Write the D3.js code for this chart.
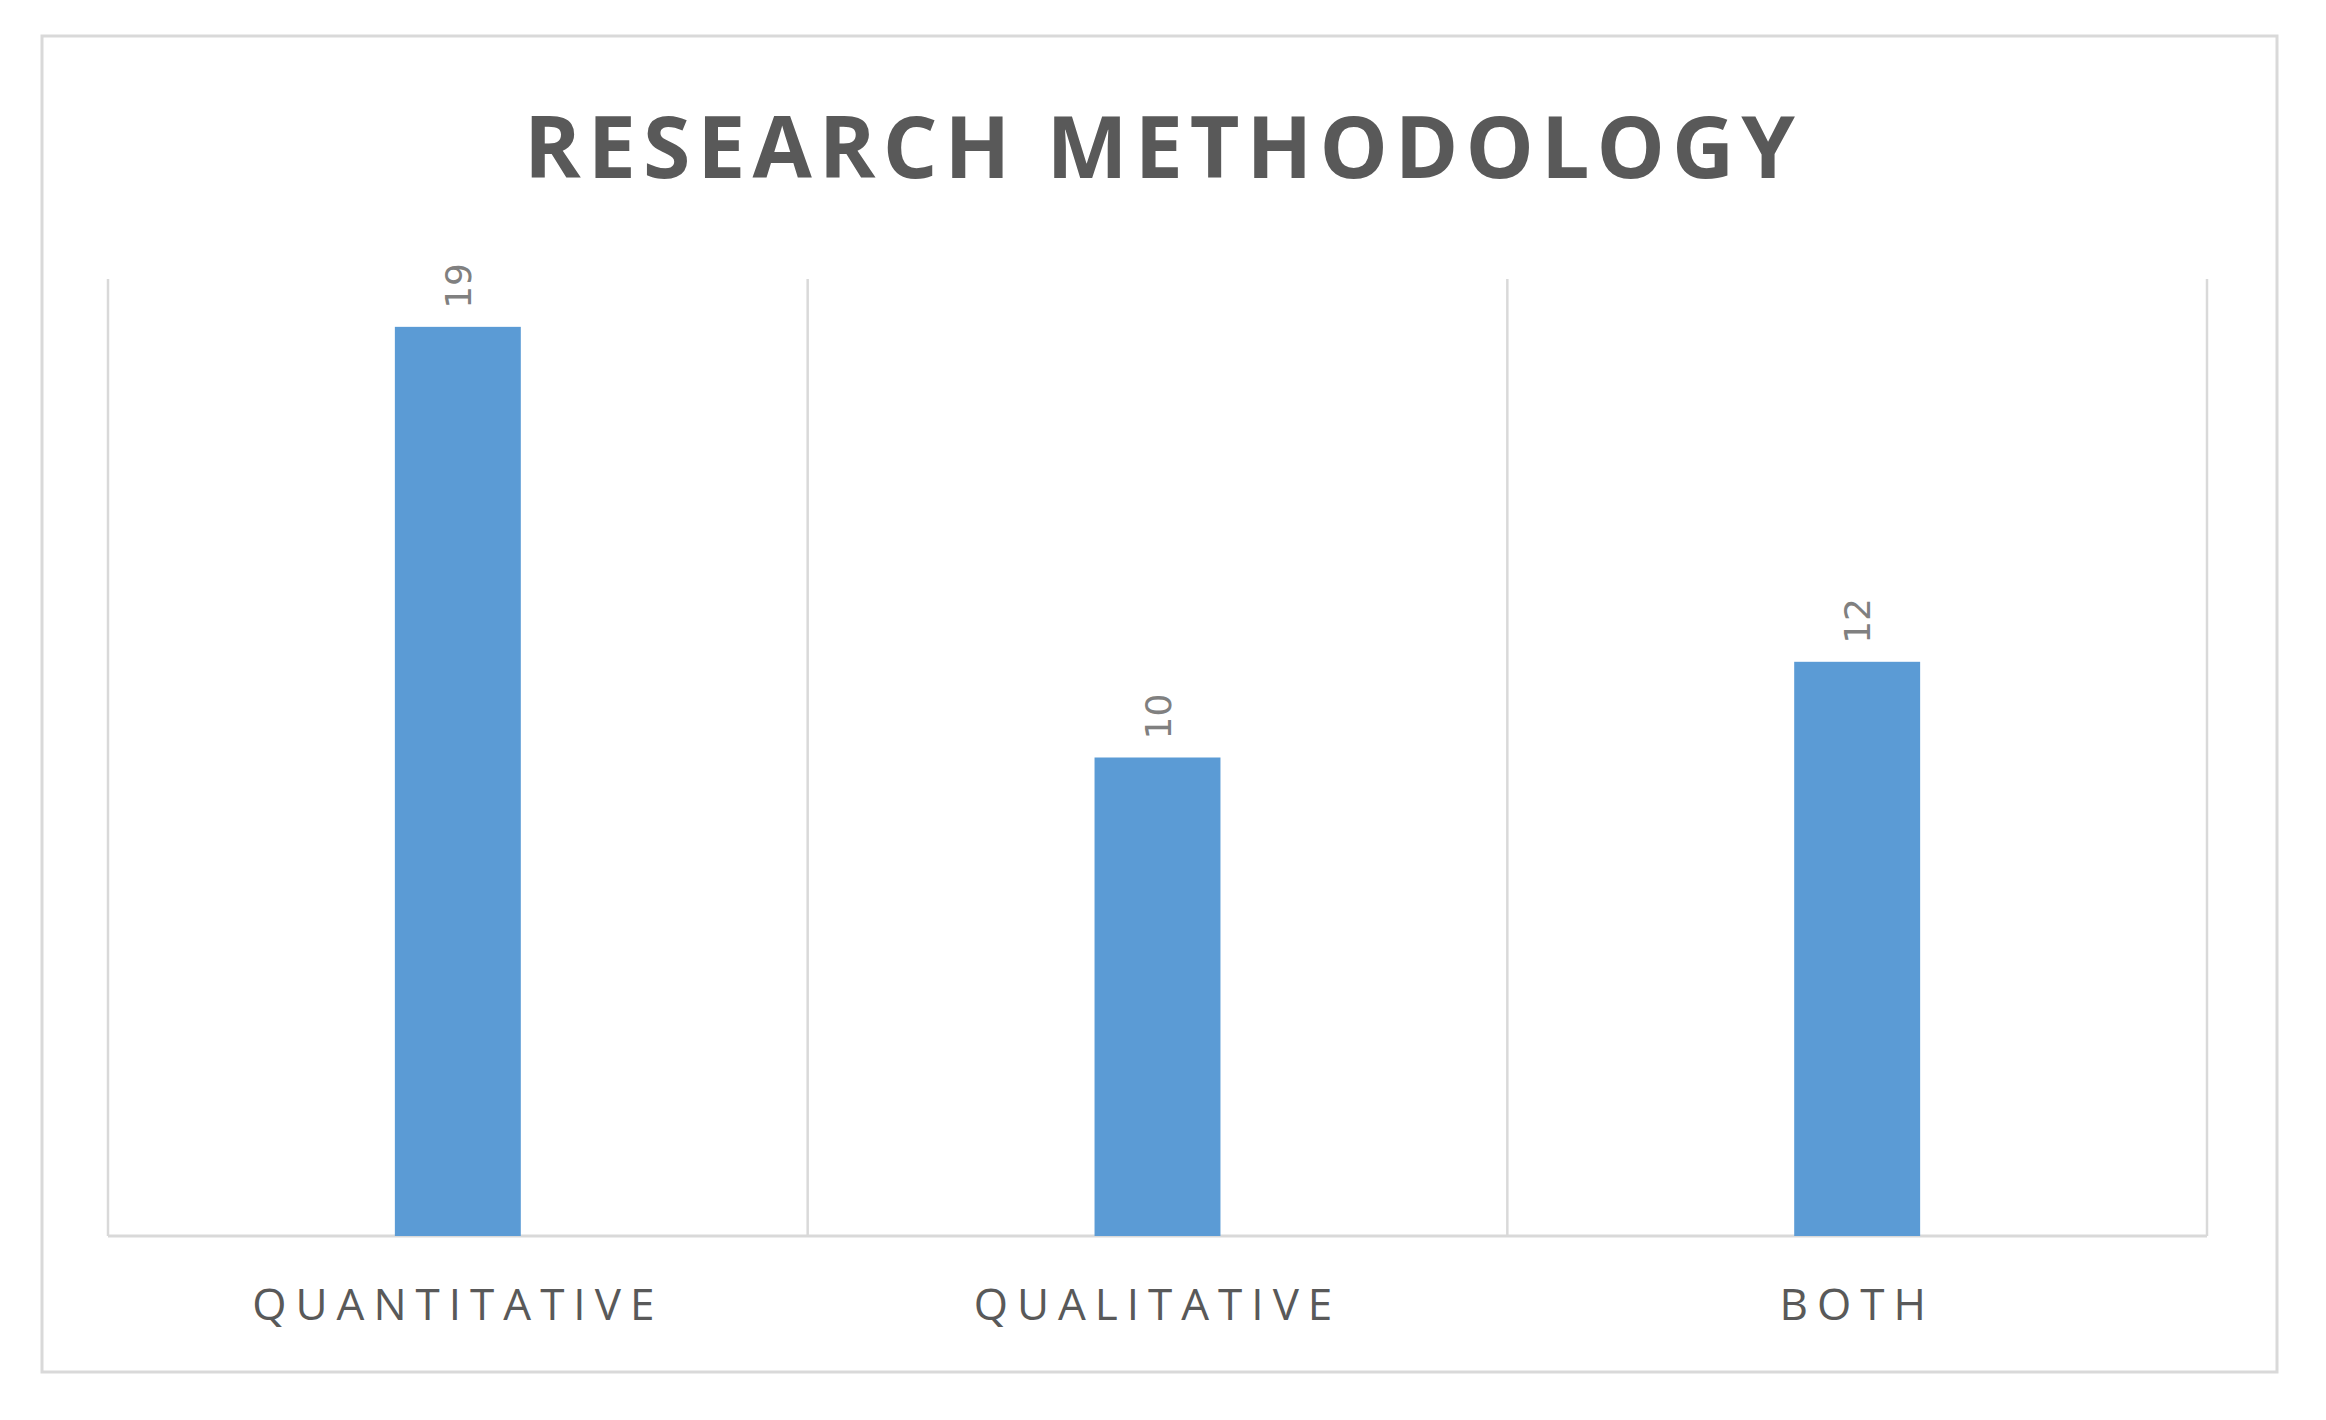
<!DOCTYPE html>
<html><head><meta charset="utf-8">
<script src="https://cdn.jsdelivr.net/npm/d3@7"></script>
<style>body{margin:0;background:#fff}</style>
</head><body><svg id="chart" width="2326" height="1420"></svg>
<script>
var categories = ["QUANTITATIVE", "QUALITATIVE", "BOTH"];
var values = [19, 10, 12];
var yDomain = [0, 20];

var margin = {top: 279, right: 119, bottom: 184, left: 108},
    width = 2326 - margin.left - margin.right,
    height = 1420 - margin.top - margin.bottom;

var svg = d3.select("#chart");
svg.append("rect").attr("x", 42).attr("y", 36).attr("width", 2235).attr("height", 1336)
    .attr("fill", "#fff").attr("stroke", "#d9d9d9").attr("stroke-width", 3);

svg.append("text").attr("x", 1163).attr("y", 178).attr("text-anchor", "middle")
    .attr("font-family", "'Open Sans', sans-serif").attr("font-weight", "bold")
    .attr("font-size", 86).attr("letter-spacing", 7).attr("fill", "#595959")
    .text("RESEARCH  METHODOLOGY");

var g = svg.append("g").attr("transform", "translate(" + margin.left + "," + margin.top + ")");

var x = d3.scaleBand().range([0, width]).domain(categories);
var y = d3.scaleLinear().range([height, 0]).domain(yDomain);

// category separators
g.selectAll(".sep").data(d3.range(categories.length + 1)).enter().append("line")
    .attr("x1", function(i) { return i * x.step(); })
    .attr("x2", function(i) { return i * x.step(); })
    .attr("y1", 0).attr("y2", height)
    .attr("stroke", "#d9d9d9").attr("stroke-width", 2.5);

g.append("line").attr("x1", 0).attr("x2", width).attr("y1", height).attr("y2", height)
    .attr("stroke", "#d9d9d9").attr("stroke-width", 3);

var bw = x.bandwidth() * 0.18;
g.selectAll(".bar").data(values).enter().append("rect")
    .attr("x", function(d, i) { return x(categories[i]) + x.bandwidth() / 2 - bw / 2; })
    .attr("y", function(d) { return y(d); })
    .attr("width", bw)
    .attr("height", function(d) { return height - y(d); })
    .attr("fill", "#5b9bd5");

g.selectAll(".val").data(values).enter().append("text")
    .attr("transform", function(d, i) {
        return "translate(" + (x(categories[i]) + x.bandwidth() / 2 + 13) + "," + (y(d) - 18) + ") rotate(-90)";
    })
    .attr("font-family", "'DejaVu Sans', sans-serif").attr("font-size", 36).attr("fill", "#808080")
    .text(function(d) { return d; });

g.selectAll(".cat").data(categories).enter().append("text")
    .attr("x", function(d) { return x(d) + x.bandwidth() / 2; })
    .attr("y", height + 84)
    .attr("text-anchor", "middle")
    .attr("font-family", "'Open Sans', sans-serif").attr("font-size", 44)
    .attr("letter-spacing", 9).attr("fill", "#595959")
    .text(function(d) { return d; });
</script></body></html>
